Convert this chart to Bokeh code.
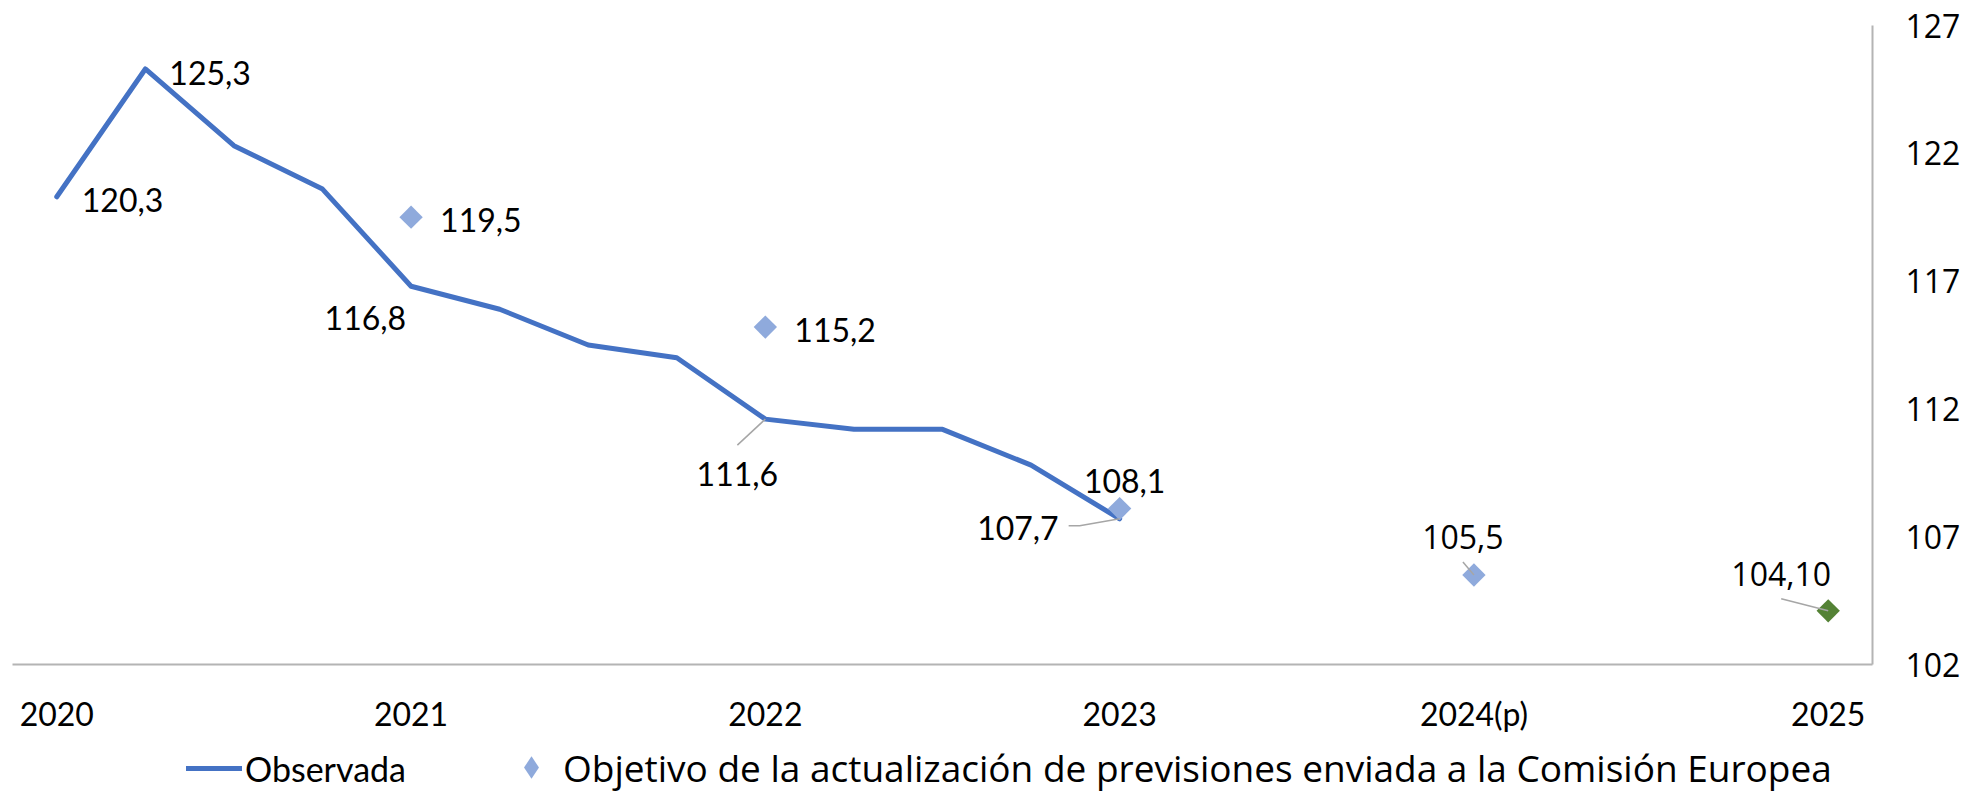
from bokeh.plotting import figure
from bokeh.models import Range1d, FixedTicker, Legend, LegendItem
from bokeh.layouts import column
from bokeh.core.properties import value
from bokeh.embed import file_html
from bokeh.resources import INLINE

# ---------------- data ----------------
# quarterly index: 0 = 2020, 4 = 2021, ... 20 = 2025
obs_period = [0, 1, 2, 3, 4, 5, 6, 7, 8, 9, 10, 11, 12]
observada = [120.3, 125.3, 122.3, 120.6, 116.8, 115.9, 114.5, 114.0, 111.6, 111.2, 111.2, 109.8, 107.7]

obj_period = [4, 8, 12, 16, 20]
objetivo = [119.5, 115.2, 108.1, 105.5, 104.1]
obj_text = ["119,5", "115,2", "108,1", "105,5", "104,10"]

obs_label_idx = [0, 1, 4, 8, 12]
obs_text = ["120,3", "125,3", "116,8", "111,6", "107,7"]

year_ticks = [0, 4, 8, 12, 16, 20]
year_labels = ["2020", "2021", "2022", "2023", "2024(p)", "2025"]
y_ticks = [102, 107, 112, 117, 122, 127]

name_obs = "Observada"
name_obj = "Objetivo de la actualización de previsiones enviada a la Comisión Europea"

# ---------------- styles ----------------
LINE_C = "#4472C4"
DIAM_C = "#8FAADC"
GREEN_C = "#548235"
AXIS_C = "#B4B4B4"
LEAD_C = "#A6A6A6"
F_CAL = "Lato"
F_SEG = "Open Sans"
FS = "32px"

FW, FH = 1860, 639
X0, X1, Y0, Y1 = -0.5, 20.5, 102, 127
PX_X = FW / (X1 - X0)
PX_Y = FH / (Y1 - Y0)

p = figure(frame_width=FW, frame_height=FH, x_range=Range1d(X0, X1), y_range=Range1d(Y0, Y1),
           y_axis_location="right", output_backend="svg", toolbar_location=None,
           min_border_left=12, min_border_top=25, min_border_bottom=62, min_border_right=5)
p.outline_line_color = None
p.grid.visible = False
p.background_fill_color = "white"
p.border_fill_color = "white"

# axes
xa = p.xaxis[0]
xa.ticker = FixedTicker(ticks=year_ticks)
xa.major_label_overrides = {t: l for t, l in zip(year_ticks, year_labels)}
xa.major_tick_line_color = None
xa.minor_tick_line_color = None
xa.axis_line_color = AXIS_C
xa.axis_line_width = 2
xa.major_label_text_font = F_CAL
xa.major_label_text_font_size = FS
xa.major_label_text_color = "black"
xa.major_label_standoff = 23

ya = p.yaxis[0]
ya.ticker = FixedTicker(ticks=y_ticks)
ya.major_tick_line_color = None
ya.minor_tick_line_color = None
ya.axis_line_color = AXIS_C
ya.axis_line_width = 2
ya.major_label_text_font = F_SEG
ya.major_label_text_font_size = FS
ya.major_label_text_color = "black"
ya.major_label_standoff = 27

# observed line
p.line(obs_period, observada, line_color=LINE_C, line_width=5, line_join="round", line_cap="round")

# target diamonds (blue ones and the green 2025 one)
p.scatter(obj_period[:-1], objetivo[:-1], marker="square", angle=0.785398, size=16.5,
          fill_color=DIAM_C, line_color=None)
p.scatter(obj_period[-1:], objetivo[-1:], marker="square", angle=0.785398, size=16.5,
          fill_color=GREEN_C, line_color=None)

# ---------------- data labels ----------------
obs_x = [obs_period[i] for i in obs_label_idx]
obs_y = [observada[i] for i in obs_label_idx]
obs_align = ["left", "left", "right", "center", "right"]
obs_dx = [25, 24, -5, -28, -61]
obs_dy = [3, 4, 32, 55, 9]
p.text(x=obs_x, y=obs_y, text=obs_text, text_align=obs_align, x_offset=obs_dx, y_offset=obs_dy,
       text_baseline="middle", text_font=value(F_CAL), text_font_size=FS, text_color="black")

obj_align = ["left", "left", "center", "center", "center"]
obj_dx = [29, 29, 5, -11, -47]
obj_dy = [3, 3, -28, -38, -37]
cal_n = 3
p.text(x=obj_period[:cal_n], y=objetivo[:cal_n], text=obj_text[:cal_n], text_align=obj_align[:cal_n],
       x_offset=obj_dx[:cal_n], y_offset=obj_dy[:cal_n], text_baseline="middle",
       text_font=value(F_CAL), text_font_size=FS, text_color="black")
p.text(x=obj_period[cal_n:], y=objetivo[cal_n:], text=obj_text[cal_n:], text_align=obj_align[cal_n:],
       x_offset=obj_dx[cal_n:], y_offset=obj_dy[cal_n:], text_baseline="middle",
       text_font=value(F_SEG), text_font_size=FS, text_color="black")

# leader lines (pixel offsets converted to data units)
def lead(x, y, pts):
    xs = [x] + [x + dx / PX_X for dx, dy in pts]
    ys = [y] + [y - dy / PX_Y for dx, dy in pts]
    p.line(xs, ys, line_color=LEAD_C, line_width=1.5)

lead(obs_period[8], observada[8], [(-28, 26)])
lead(obs_period[12], observada[12], [(-40, 7), (-51, 7)])
lead(obj_period[3], objetivo[3], [(-11, -13)])
lead(obj_period[4], objetivo[4], [(-47, -12)])

# ---------------- legend (own strip below the chart) ----------------
lf = figure(width=1950, height=65, x_range=Range1d(X0, X1), y_range=Range1d(Y0, Y1),
            x_axis_location=None, y_axis_location=None, output_backend="svg",
            toolbar_location=None, min_border=0)
lf.outline_line_color = None
lf.grid.visible = False
lf.border_fill_color = "white"
# hidden copies of the two series: only their legend glyphs are shown
leg_line = lf.line(obs_period, observada, line_color=LINE_C, line_width=5, line_cap="round", visible=False)
leg_diam = lf.scatter(obj_period, objetivo, marker="diamond", size=20, fill_color=DIAM_C,
                      line_color=None, visible=False)

leg1 = Legend(items=[LegendItem(label=name_obs, renderers=[leg_line])], location=(174, 11),
              glyph_width=56, glyph_height=42, label_height=42, label_standoff=3,
              padding=0, margin=0, spacing=0, inactive_fill_alpha=0,
              label_text_font=F_CAL, label_text_font_size="34px", label_text_color="black",
              border_line_color=None, background_fill_alpha=0)
leg2 = Legend(items=[LegendItem(label=name_obj, renderers=[leg_diam])], location=(491, 5),
              glyph_width=56, glyph_height=56, label_height=56, label_standoff=4,
              padding=0, margin=0, spacing=0, inactive_fill_alpha=0,
              label_text_font=F_SEG, label_text_font_size="37px", label_text_color="black",
              border_line_color=None, background_fill_alpha=0)
lf.add_layout(leg1, "center")
lf.add_layout(leg2, "center")

layout = column(p, lf, spacing=0)
open("out.html", "w").write(file_html(layout, INLINE, "chart"))
